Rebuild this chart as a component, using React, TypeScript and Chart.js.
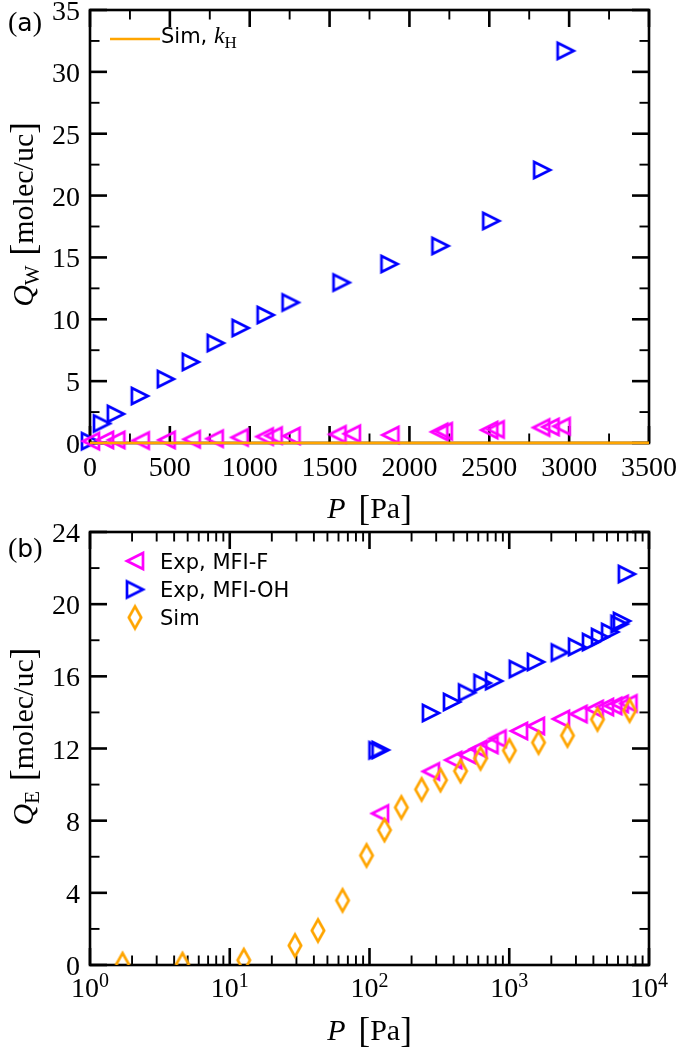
import React, { useEffect, useRef } from 'react';
import { Chart, registerables } from 'chart.js';

Chart.register(...registerables);

// ---------------- Panel (a): water, linear pressure ----------------
const A_MFI_OH_P = [0, 75, 162, 312, 475, 631, 787, 943, 1100, 1256, 1575, 1875, 2194, 2512, 2831, 2978];
const A_MFI_OH_Q = [0.15, 1.58, 2.35, 3.8, 5.17, 6.55, 8.08, 9.3, 10.35, 11.36, 12.97, 14.47, 15.93, 17.95, 22.07, 31.7];
const A_MFI_F_P = [6, 94, 165, 318, 480, 637, 781, 937, 1094, 1150, 1262, 1550, 1640, 1881, 2187, 2215, 2500, 2540, 2825, 2884, 2953];
const A_MFI_F_Q = [0.15, 0.25, 0.25, 0.2, 0.25, 0.3, 0.35, 0.45, 0.52, 0.6, 0.57, 0.7, 0.75, 0.65, 0.9, 0.95, 1.05, 1.1, 1.25, 1.3, 1.35];
const A_SIM_KH_P = [0, 3500];
const A_SIM_KH_Q = [0, 0.01];

const A_X_TICKS = [0, 500, 1000, 1500, 2000, 2500, 3000, 3500];
const A_X_LABELS = ['0', '500', '1000', '1500', '2000', '2500', '3000', '3500'];
const A_X_MINOR = [250, 750, 1250, 1750, 2250, 2750, 3250];
const A_Y_TICKS = [0, 5, 10, 15, 20, 25, 30, 35];
const A_Y_LABELS = ['0', '5', '10', '15', '20', '25', '30', '35'];
const A_Y_MINOR = [2.5, 7.5, 12.5, 17.5, 22.5, 27.5, 32.5];

// ---------------- Panel (b): ethanol, log pressure ----------------
const B_MFI_F_P = [119, 275, 398, 500, 601, 722, 824, 1175, 1552, 2345, 3130, 4090, 4840, 5560, 6170, 7130];
const B_MFI_F_Q = [8.4, 10.73, 11.36, 11.64, 11.97, 12.2, 12.55, 12.97, 13.25, 13.64, 13.91, 14.19, 14.3, 14.36, 14.47, 14.5];
const B_MFI_OH_P = [114, 120, 275, 389, 499, 643, 779, 1151, 1552, 2300, 3055, 3845, 4460, 5265, 6150, 6400, 6940];
const B_MFI_OH_Q = [11.9, 11.92, 13.97, 14.58, 15.1, 15.63, 15.74, 16.4, 16.8, 17.32, 17.63, 17.9, 18.18, 18.46, 18.9, 19.07, 21.67];
const B_SIM_P = [1.71, 4.59, 12.6, 29.3, 42.8, 64.1, 95.2, 128, 169, 236, 322, 448, 623, 1003, 1620, 2610, 4280, 7260];
const B_SIM_Q = [0.05, 0.05, 0.27, 1.08, 1.91, 3.58, 6.07, 7.48, 8.73, 9.73, 10.25, 10.75, 11.45, 11.89, 12.33, 12.72, 13.61, 14.1];

const B_X_TICKS = [1, 10, 100, 1000, 10000];
const B_X_EXPONENTS = ['0', '1', '2', '3', '4'];
const B_X_DECADES = [1, 10, 100, 1000];
const B_X_MINOR_MULT = [2, 3, 4, 5, 6, 7, 8, 9];
const B_Y_TICKS = [0, 4, 8, 12, 16, 20, 24];
const B_Y_LABELS = ['0', '4', '8', '12', '16', '20', '24'];
const B_Y_MINOR = [2, 6, 10, 14, 18, 22];

const LEGEND_B = ['Exp, MFI-F', 'Exp, MFI-OH', 'Sim'];

const BLUE = '#0000ff';
const MAGENTA = '#ff00ff';
const ORANGE = '#ffa500';
const SERIF = '"Liberation Serif"';
const SANS = '"DejaVu Sans"';

type Seg = { t?: string; f?: string; dy?: number; w?: number };

function zip(xs: number[], ys: number[]) {
  return xs.map((x, i) => ({ x, y: ys[i] }));
}

function markerCanvas(kind: 'left' | 'right' | 'diamond', color: string): HTMLCanvasElement {
  const c = document.createElement('canvas');
  const W = kind === 'diamond' ? 20 : 28;
  const H = kind === 'diamond' ? 32 : 28;
  c.width = W;
  c.height = H;
  const g = c.getContext('2d')!;
  g.strokeStyle = color;
  g.lineWidth = 2.7;
  g.lineJoin = 'miter';
  const cx = W / 2;
  const cy = H / 2;
  g.beginPath();
  if (kind === 'right') {
    g.moveTo(cx - 8, cy - 8);
    g.lineTo(cx + 8, cy);
    g.lineTo(cx - 8, cy + 8);
  } else if (kind === 'left') {
    g.moveTo(cx + 8, cy - 8);
    g.lineTo(cx - 8, cy);
    g.lineTo(cx + 8, cy + 8);
  } else {
    g.moveTo(cx, cy - 11);
    g.lineTo(cx + 6.2, cy);
    g.lineTo(cx, cy + 11);
    g.lineTo(cx - 6.2, cy);
  }
  g.closePath();
  g.stroke();
  return c;
}

function segWidth(ctx: CanvasRenderingContext2D, segs: Seg[]) {
  let w = 0;
  for (const s of segs) {
    if (s.w !== undefined) { w += s.w; continue; }
    ctx.font = s.f!;
    w += ctx.measureText(s.t!).width;
  }
  return w;
}

function richText(ctx: CanvasRenderingContext2D, segs: Seg[], x: number, y: number, center: boolean) {
  let cx = center ? x - segWidth(ctx, segs) / 2 : x;
  ctx.textAlign = 'left';
  ctx.textBaseline = 'alphabetic';
  for (const s of segs) {
    if (s.w !== undefined) { cx += s.w; continue; }
    ctx.font = s.f!;
    ctx.fillText(s.t!, cx, y + (s.dy || 0));
    cx += ctx.measureText(s.t!).width;
  }
}

interface PanelSpec {
  xMajor: number[];
  xMinor: number[];
  yMajor: number[];
  yMinor: number[];
  yLabels: string[];
  drawXLabels: (ctx: CanvasRenderingContext2D, chart: any) => void;
  yTitleSub: string;
  letter: string;
  letterBaseline: number;
  legend: (ctx: CanvasRenderingContext2D, chart: any) => void;
}

const MAJ = 17;
const MIN = 9.5;

function makeDecor(spec: PanelSpec) {
  return {
    id: 'decor',
    beforeDatasetsDraw(chart: any) {
      const ctx: CanvasRenderingContext2D = chart.ctx;
      const { left, right, top, bottom } = chart.chartArea;
      const xs = chart.scales.x;
      const ys = chart.scales.y;
      ctx.save();
      ctx.strokeStyle = '#000';
      ctx.fillStyle = '#000';
      const line = (x1: number, y1: number, x2: number, y2: number, w: number) => {
        ctx.lineWidth = w;
        ctx.beginPath();
        ctx.moveTo(x1, y1);
        ctx.lineTo(x2, y2);
        ctx.stroke();
      };
      for (const v of spec.xMajor) {
        const p = xs.getPixelForValue(v);
        line(p, bottom, p, bottom - MAJ, 2.6);
        line(p, top, p, top + MAJ, 2.6);
      }
      for (const v of spec.xMinor) {
        const p = xs.getPixelForValue(v);
        line(p, bottom, p, bottom - MIN, 1.9);
        line(p, top, p, top + MIN, 1.9);
      }
      for (const v of spec.yMajor) {
        const p = ys.getPixelForValue(v);
        line(left, p, left + MAJ, p, 2.6);
        line(right, p, right - MAJ, p, 2.6);
      }
      for (const v of spec.yMinor) {
        const p = ys.getPixelForValue(v);
        line(left, p, left + MIN, p, 1.9);
        line(right, p, right - MIN, p, 1.9);
      }
      ctx.lineWidth = 2.6;
      ctx.strokeRect(left, top, right - left, bottom - top);

      // y tick labels
      ctx.font = `28px ${SERIF}`;
      ctx.textAlign = 'right';
      ctx.textBaseline = 'alphabetic';
      spec.yMajor.forEach((v, i) => {
        ctx.fillText(spec.yLabels[i], left - 10, ys.getPixelForValue(v) + 10);
      });
      spec.drawXLabels(ctx, chart);

      // x title
      const xTitle: Seg[] = [
        { t: 'P', f: `italic 30px ${SERIF}` },
        { w: 13 },
        { t: '[', f: `35px ${SERIF}`, dy: 2 },
        { t: 'Pa', f: `30px ${SERIF}` },
        { t: ']', f: `35px ${SERIF}`, dy: 2 },
      ];
      richText(ctx, xTitle, (left + right) / 2, bottom + 75, true);

      // y title
      const yTitle: Seg[] = [
        { t: 'Q', f: `italic 30px ${SERIF}` },
        { t: spec.yTitleSub, f: `21px ${SERIF}`, dy: 6 },
        { w: 10 },
        { t: '[', f: `35px ${SERIF}`, dy: 2 },
        { t: 'molec/uc', f: `30px ${SERIF}` },
        { t: ']', f: `35px ${SERIF}`, dy: 2 },
      ];
      ctx.save();
      ctx.translate(33, (top + bottom) / 2 - 12);
      ctx.rotate(-Math.PI / 2);
      richText(ctx, yTitle, 0, 0, true);
      ctx.restore();

      // panel letter
      richText(ctx, [
        { t: '(', f: `28px ${SERIF}` },
        { t: spec.letter, f: `25px ${SANS}` },
        { t: ')', f: `28px ${SERIF}` },
      ], 8, spec.letterBaseline, false);
      ctx.restore();
    },
    afterDatasetsDraw(chart: any) {
      const ctx: CanvasRenderingContext2D = chart.ctx;
      ctx.save();
      ctx.fillStyle = '#000';
      spec.legend(ctx, chart);
      ctx.restore();
    },
  };
}

function buildA(canvas: HTMLCanvasElement) {
  const leftTri = markerCanvas('left', MAGENTA);
  const rightTri = markerCanvas('right', BLUE);
  const spec: PanelSpec = {
    xMajor: A_X_TICKS,
    xMinor: A_X_MINOR,
    yMajor: A_Y_TICKS,
    yMinor: A_Y_MINOR,
    yLabels: A_Y_LABELS,
    drawXLabels: (ctx, chart) => {
      const { bottom } = chart.chartArea;
      ctx.font = `28px ${SERIF}`;
      ctx.textAlign = 'center';
      A_X_TICKS.forEach((v, i) => {
        ctx.fillText(A_X_LABELS[i], chart.scales.x.getPixelForValue(v), bottom + 33);
      });
    },
    yTitleSub: 'W',
    letter: 'a',
    letterBaseline: 31,
    legend: (ctx) => {
      ctx.strokeStyle = ORANGE;
      ctx.lineWidth = 2.6;
      ctx.beginPath();
      ctx.moveTo(110, 39);
      ctx.lineTo(160, 39);
      ctx.stroke();
      richText(ctx, [
        { t: 'Sim, ', f: `21px ${SANS}` },
        { t: 'k', f: `italic 24px ${SERIF}` },
        { t: 'H', f: `17px ${SERIF}`, dy: 5 },
      ], 161, 43, false);
    },
  };
  return new Chart(canvas, {
    type: 'scatter',
    data: {
      datasets: [
        {
          label: 'Sim, kH',
          data: zip(A_SIM_KH_P, A_SIM_KH_Q),
          showLine: true,
          borderColor: ORANGE,
          borderWidth: 2.6,
          pointRadius: 0,
          clip: false,
        } as any,
        {
          label: 'Exp, MFI-F',
          data: zip(A_MFI_F_P, A_MFI_F_Q),
          pointStyle: leftTri,
          pointRadius: 9,
          clip: false,
        } as any,
        {
          label: 'Exp, MFI-OH',
          data: zip(A_MFI_OH_P, A_MFI_OH_Q),
          pointStyle: rightTri,
          pointRadius: 9,
          clip: false,
        } as any,
      ],
    },
    options: {
      responsive: false,
      devicePixelRatio: 1,
      animation: false,
      events: [],
      layout: { padding: { left: 90, top: 10, right: 29, bottom: 87 } },
      plugins: { legend: { display: false }, tooltip: { enabled: false } },
      scales: {
        x: { type: 'linear', min: 0, max: 3500, display: false },
        y: { type: 'linear', min: 0, max: 35, display: false },
      },
    },
    plugins: [makeDecor(spec)],
  } as any);
}

function buildB(canvas: HTMLCanvasElement) {
  const leftTri = markerCanvas('left', MAGENTA);
  const rightTri = markerCanvas('right', BLUE);
  const diamond = markerCanvas('diamond', ORANGE);
  const minors: number[] = [];
  B_X_DECADES.forEach((d) => B_X_MINOR_MULT.forEach((m) => minors.push(d * m)));
  const spec: PanelSpec = {
    xMajor: B_X_TICKS,
    xMinor: minors,
    yMajor: B_Y_TICKS,
    yMinor: B_Y_MINOR,
    yLabels: B_Y_LABELS,
    drawXLabels: (ctx, chart) => {
      const { bottom } = chart.chartArea;
      B_X_TICKS.forEach((v, i) => {
        const px = chart.scales.x.getPixelForValue(v);
        richText(ctx, [
          { t: '10', f: `28px ${SERIF}` },
          { t: B_X_EXPONENTS[i], f: `20px ${SERIF}`, dy: -10 },
        ], px, bottom + 32, true);
      });
    },
    yTitleSub: 'E',
    letter: 'b',
    letterBaseline: 57,
    legend: (ctx) => {
      const marks = [leftTri, rightTri, diamond];
      const centers = [61, 89.5, 117.5];
      marks.forEach((m, i) => {
        ctx.drawImage(m, 135 - m.width / 2, centers[i] - m.height / 2);
        richText(ctx, [{ t: LEGEND_B[i], f: `21px ${SANS}` }], 160, centers[i] + 7.5, false);
      });
    },
  };
  return new Chart(canvas, {
    type: 'scatter',
    data: {
      datasets: [
        {
          label: 'Sim',
          data: zip(B_SIM_P, B_SIM_Q),
          pointStyle: diamond,
          pointRadius: 9,
          clip: 0,
        } as any,
        {
          label: 'Exp, MFI-OH',
          data: zip(B_MFI_OH_P, B_MFI_OH_Q),
          pointStyle: rightTri,
          pointRadius: 9,
          clip: 0,
        } as any,
        {
          label: 'Exp, MFI-F',
          data: zip(B_MFI_F_P, B_MFI_F_Q),
          pointStyle: leftTri,
          pointRadius: 9,
          clip: 0,
        } as any,
      ],
    },
    options: {
      responsive: false,
      devicePixelRatio: 1,
      animation: false,
      events: [],
      layout: { padding: { left: 90, top: 32, right: 29, bottom: 85 } },
      plugins: { legend: { display: false }, tooltip: { enabled: false } },
      scales: {
        x: { type: 'logarithmic', min: 1, max: 10000, display: false },
        y: { type: 'linear', min: 0, max: 24, display: false },
      },
    },
    plugins: [makeDecor(spec)],
  } as any);
}

export default function App() {
  const refA = useRef<HTMLCanvasElement>(null);
  const refB = useRef<HTMLCanvasElement>(null);
  useEffect(() => {
    let a: Chart | null = null;
    let b: Chart | null = null;
    let alive = true;
    const fontsReady = (document as any).fonts
      ? Promise.all([
          (document as any).fonts.load(`28px ${SERIF}`),
          (document as any).fonts.load(`italic 28px ${SERIF}`),
          (document as any).fonts.load(`21px ${SANS}`),
        ]).catch(() => null)
      : Promise.resolve(null);
    fontsReady.then(() => {
      if (!alive || !refA.current || !refB.current) return;
      a = buildA(refA.current);
      b = buildB(refB.current);
    });
    return () => {
      alive = false;
      if (a) a.destroy();
      if (b) b.destroy();
    };
  }, []);
  return (
    <div style={{ position: 'absolute', left: 0, top: 0, width: 678, height: 1050, background: '#fff' }}>
      <canvas ref={refA} width={678} height={530} style={{ position: 'absolute', left: 0, top: 0, width: 678, height: 530 }} />
      <canvas ref={refB} width={678} height={550} style={{ position: 'absolute', left: 0, top: 500, width: 678, height: 550 }} />
    </div>
  );
}
